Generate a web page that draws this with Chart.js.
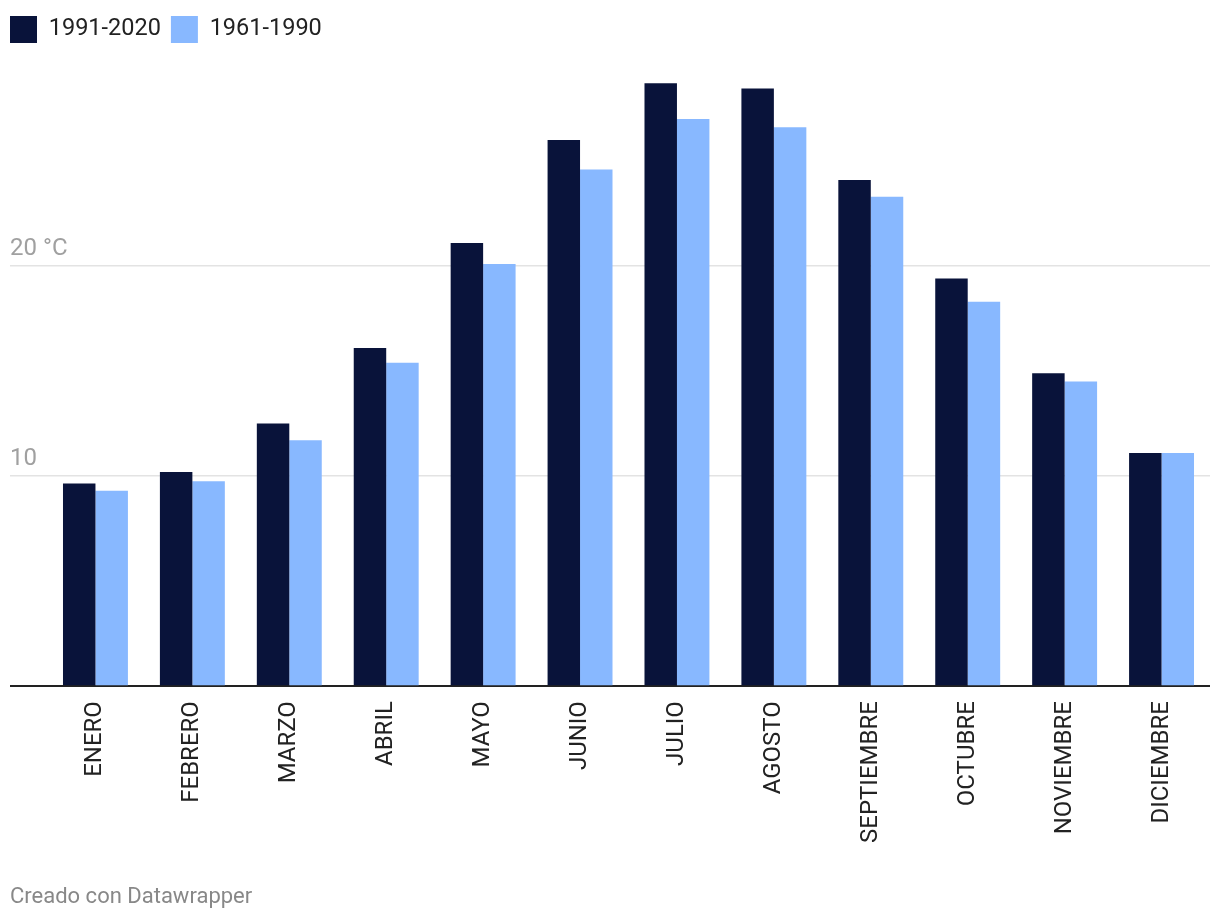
<!DOCTYPE html>
<html>
  <head>
    <title>Temperatura media</title>
    <script src="https://cdn.jsdelivr.net/npm/chart.js"></script>
    <style>
      body { margin: 0; background: #fff; }
      #wrap { position: relative; width: 1220px; height: 924px; }
      #credit {
        position: absolute; left: 10px; top: 883px;
        font: 22px Roboto, sans-serif; color: #888;
      }
    </style>
  </head>
  <body>
    <div id="wrap">
      <canvas id="tempChart"></canvas>
      <div id="credit">Creado con Datawrapper</div>
    </div>

    <script>
      const months = ['ENERO', 'FEBRERO', 'MARZO', 'ABRIL', 'MAYO', 'JUNIO', 'JULIO',
        'AGOSTO', 'SEPTIEMBRE', 'OCTUBRE', 'NOVIEMBRE', 'DICIEMBRE'];
      const recent = [9.65, 10.2, 12.5, 16.1, 21.1, 26.0, 28.7, 28.45, 24.1, 19.4, 14.9, 11.1];
      const older = [9.3, 9.75, 11.7, 15.4, 20.1, 24.6, 27.0, 26.6, 23.3, 18.3, 14.5, 11.1];
      const yTicks = [0, 10, 20];
      const yTickLabels = ['', '10', '20 °C'];

      Chart.defaults.font.family = 'Roboto';

      const ctx = document.getElementById('tempChart').getContext('2d');
      const chart = new Chart(ctx, {
        type: 'bar',
        data: {
          labels: months,
          datasets: [
            {
              label: '1991-2020',
              data: recent,
              backgroundColor: '#09133a',
              barPercentage: 1,
              categoryPercentage: 0.67,
            },
            {
              label: '1961-1990',
              data: older,
              backgroundColor: '#88b8ff',
              barPercentage: 1,
              categoryPercentage: 0.67,
            },
          ],
        },
        options: {
          responsive: true,
          maintainAspectRatio: false,
          animation: false,
          layout: { padding: { left: 0, right: 10, top: 6, bottom: 74 } },
          plugins: {
            legend: {
              position: 'top',
              align: 'start',
              labels: {
                boxWidth: 27,
                boxHeight: 27,
                padding: 10,
                color: '#222',
                font: { size: 23.5 },
              },
            },
            tooltip: { enabled: false },
          },
          scales: {
            x: {
              grid: { display: false },
              border: { display: false },
              ticks: {
                minRotation: 90,
                maxRotation: 90,
                padding: 7,
                color: '#222',
                font: { size: 24 },
              },
            },
            y: {
              min: 0,
              max: 30.14,
              afterBuildTicks: (scale) => {
                scale.ticks = yTicks.map((v) => ({ value: v }));
              },
              afterFit: (scale) => {
                scale.width = 47;
              },
              border: { display: false },
              grid: {
                tickLength: 37,
                color: (c) => (c.tick.value === 0 ? '#222' : '#e3e3e3'),
                lineWidth: (c) => (c.tick.value === 0 ? 2 : 1.5),
              },
              ticks: {
                mirror: true,
                padding: -37,
                labelOffset: -17,
                color: '#a0a0a0',
                font: { size: 24 },
                callback: (v) => yTickLabels[yTicks.indexOf(v)],
              },
            },
          },
        },
      });
    </script>
  </body>
</html>
